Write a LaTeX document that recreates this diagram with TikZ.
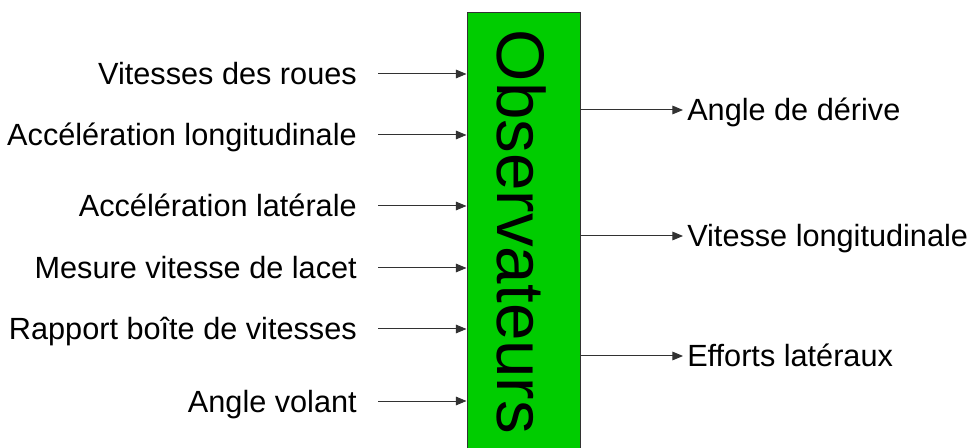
\documentclass[tikz,border=0pt]{standalone}
\usepackage{fontspec}
\setmainfont{Liberation Sans}
\usetikzlibrary{arrows.meta}
\definecolor{obsgreen}{RGB}{0,204,0}
\definecolor{linegray}{RGB}{50,50,50}
\tikzset{
  lbl/.style={inner sep=0pt, text height=16.5pt, text depth=0pt, font=\fontsize{23}{27}\selectfont},
  sig/.style={draw=linegray, line width=0.75pt, -{Triangle[length=8pt,width=6.5pt]}},
  obsbox/.style={draw=linegray, fill=obsgreen, line width=0.75pt, minimum width=84.75pt, minimum height=341.6pt, inner sep=0pt},
}
\begin{document}
\begin{tikzpicture}[x=0.75pt,y=0.75pt,yscale=-1,xscale=1]
\useasboundingbox (0,0) rectangle (973,448);
\clip (0,0) rectangle (973,448);

%Shape: Rectangle [observateurs]
\node[obsbox] (obs) at (523.5,240.25) {};
% Text Node
\node[rotate=-90, inner sep=0pt, font=\fontsize{50.5}{60}\selectfont] (obstitle) at (521.5,232) {Observateurs};

% Text Node
\node[lbl, anchor=east] (vroues) at (357,74) {Vitesses des roues};
% Text Node
\node[lbl, anchor=east] (acclong) at (357,135) {Accélération longitudinale};
% Text Node
\node[lbl, anchor=east] (acclat) at (357,206) {Accélération latérale};
% Text Node
\node[lbl, anchor=east] (lacet) at (357,268) {Mesure vitesse de lacet};
% Text Node
\node[lbl, anchor=east] (rapport) at (357,329) {Rapport boîte de vitesses};
% Text Node
\node[lbl, anchor=east] (volant) at (357,401) {Angle volant};

%Straight Lines [entrees]
\draw[sig, shorten <=15.75pt] (vroues.east) -- (vroues.east -| obs.west);
\draw[sig, shorten <=15.75pt] (acclong.east) -- (acclong.east -| obs.west);
\draw[sig, shorten <=15.75pt] (acclat.east) -- (acclat.east -| obs.west);
\draw[sig, shorten <=15.75pt] (lacet.east) -- (lacet.east -| obs.west);
\draw[sig, shorten <=15.75pt] (rapport.east) -- (rapport.east -| obs.west);
\draw[sig, shorten <=15.75pt] (volant.east) -- (volant.east -| obs.west);

% Text Node
\node[lbl, anchor=west] (derive) at (687,110) {Angle de dérive};
% Text Node
\node[lbl, anchor=west] (vlong) at (687,236) {Vitesse longitudinale};
% Text Node
\node[lbl, anchor=west] (efforts) at (687,356) {Efforts latéraux};

%Straight Lines [sorties]
\draw[sig, shorten >=3pt] (derive.west -| obs.east) -- (derive.west);
\draw[sig, shorten >=3pt] (vlong.west -| obs.east) -- (vlong.west);
\draw[sig, shorten >=3pt] (efforts.west -| obs.east) -- (efforts.west);

\end{tikzpicture}
\end{document}
